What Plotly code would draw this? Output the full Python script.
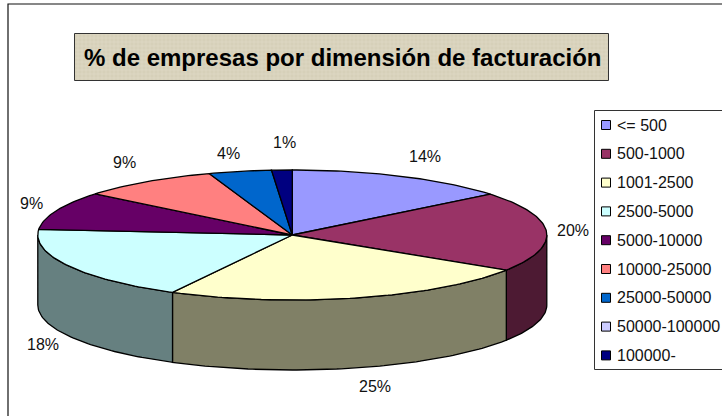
import math
import plotly.graph_objects as go

categories = ["<= 500", "500-1000", "1001-2500", "2500-5000", "5000-10000",
              "10000-25000", "25000-50000", "50000-100000", "100000-"]
# Shares as drawn in the picture (the printed labels are rounded by the source chart)
values = [14.2, 19.9, 23.7, 18.6, 9.5, 8.8, 4.0, 0.0, 1.3]
pct_labels = ["14%", "20%", "25%", "18%", "9%", "9%", "4%", "", "1%"]
top_colors = ["#9999FF", "#993366", "#FFFFCC", "#CCFFFF", "#660066",
              "#FF8080", "#0066CC", "#CCCCFF", "#000080"]
side_colors = ["#4D4D80", "#4D1A33", "#808066", "#668080", "#330033",
               "#804040", "#003366", "#666680", "#000040"]
label_pos = [(425, 156), (573, 230), (375, 386), (43, 344), (31, 203),
             (124, 162), (228, 153), None, (284, 142)]
title_text = "% de empresas por dimensión de facturación"

W, H = 722, 416
CX, CY, A, B, DEPTH = 292.3, 235, 254.5, 65, 70
INK = "#000000"


def pt(theta, dy=0.0):
    return CX + A * math.sin(theta), CY - B * math.cos(theta) + dy


def arc(t0, t1, dy=0.0, step=math.radians(1.0)):
    n = max(2, int(abs(t1 - t0) / step) + 1)
    return [pt(t0 + (t1 - t0) * i / (n - 1), dy) for i in range(n)]


fig = go.Figure()


def poly(points, fill, line=INK, width=1.3):
    xs = [p[0] for p in points] + [points[0][0]]
    ys = [p[1] for p in points] + [points[0][1]]
    fig.add_trace(go.Scatter(x=xs, y=ys, mode="lines", fill="toself", fillcolor=fill,
                             line=dict(color=line, width=width), hoverinfo="skip",
                             showlegend=False))


total = sum(values)
angles = []
run = 0.0
for v in values:
    angles.append((run / total * 2 * math.pi, (run + v) / total * 2 * math.pi))
    run += v

# Walls of the visible front half
for i, (t0, t1) in enumerate(angles):
    s0, s1 = max(t0, math.pi / 2), min(t1, 3 * math.pi / 2)
    if values[i] > 0 and s1 > s0:
        poly(arc(s0, s1) + arc(s1, s0, DEPTH), side_colors[i])

# Top faces
for i, (t0, t1) in enumerate(angles):
    if values[i] > 0:
        poly([(CX, CY)] + arc(t0, t1), top_colors[i])

# Percent labels
for lab, pos in zip(pct_labels, label_pos):
    if pos:
        fig.add_annotation(x=pos[0], y=pos[1], text=lab, showarrow=False,
                           font=dict(family="Liberation Sans", size=16, color="#111111"))

# Title plate
fig.add_trace(go.Scatter(x=[74.5, 608.5, 608.5, 74.5, 74.5], y=[33.5, 33.5, 80.5, 80.5, 33.5],
                         mode="lines", fill="toself", fillcolor="#D9D3BD",
                         fillpattern=dict(shape="+", size=4, solidity=0.25,
                                          fgcolor="#EAE5D6", bgcolor="#D6D0B9"),
                         line=dict(color="#333333", width=1), hoverinfo="skip", showlegend=False))
fig.add_annotation(x=342, y=57, text=f"<b>{title_text}</b>", showarrow=False,
                   font=dict(family="Liberation Sans", size=24, color="#000000"))

# Legend box and keys
LX0, LY0, LY1 = 595, 111, 369
fig.add_shape(type="rect", x0=LX0 - 0.5, y0=LY0 - 0.5, x1=W + 3, y1=LY1 + 0.5,
              line=dict(color="#333333", width=1), fillcolor="#FFFFFF", layer="between")
row_y = [LY0 + 14 + i * 28.8 for i in range(len(categories))]
fig.add_trace(go.Scatter(x=[606] * len(categories), y=row_y, mode="markers",
                         marker=dict(symbol="square", size=9, color=top_colors,
                                     line=dict(color="#000000", width=1)),
                         hoverinfo="skip", showlegend=False))
for cat, y in zip(categories, row_y):
    fig.add_annotation(x=615, y=y, text=cat.replace("<", "&lt;"), xanchor="left", showarrow=False,
                       font=dict(family="Liberation Sans", size=16, color="#111111"))

# Outer frame
fig.add_shape(type="rect", x0=8, y0=4, x1=W + 3, y1=H + 3,
              line=dict(color="#111111", width=1.2), layer="below")

fig.update_layout(
    width=W, height=H, margin=dict(l=0, r=0, t=0, b=0),
    paper_bgcolor="#FFFFFF", plot_bgcolor="#FFFFFF", showlegend=False,
    xaxis=dict(range=[0, W], visible=False, fixedrange=True),
    yaxis=dict(range=[H, 0], visible=False, fixedrange=True),
)
fig.write_html("out.html", config={"displayModeBar": False},
               post_script="document.body.style.margin='0';document.documentElement.style.overflow='hidden';")
